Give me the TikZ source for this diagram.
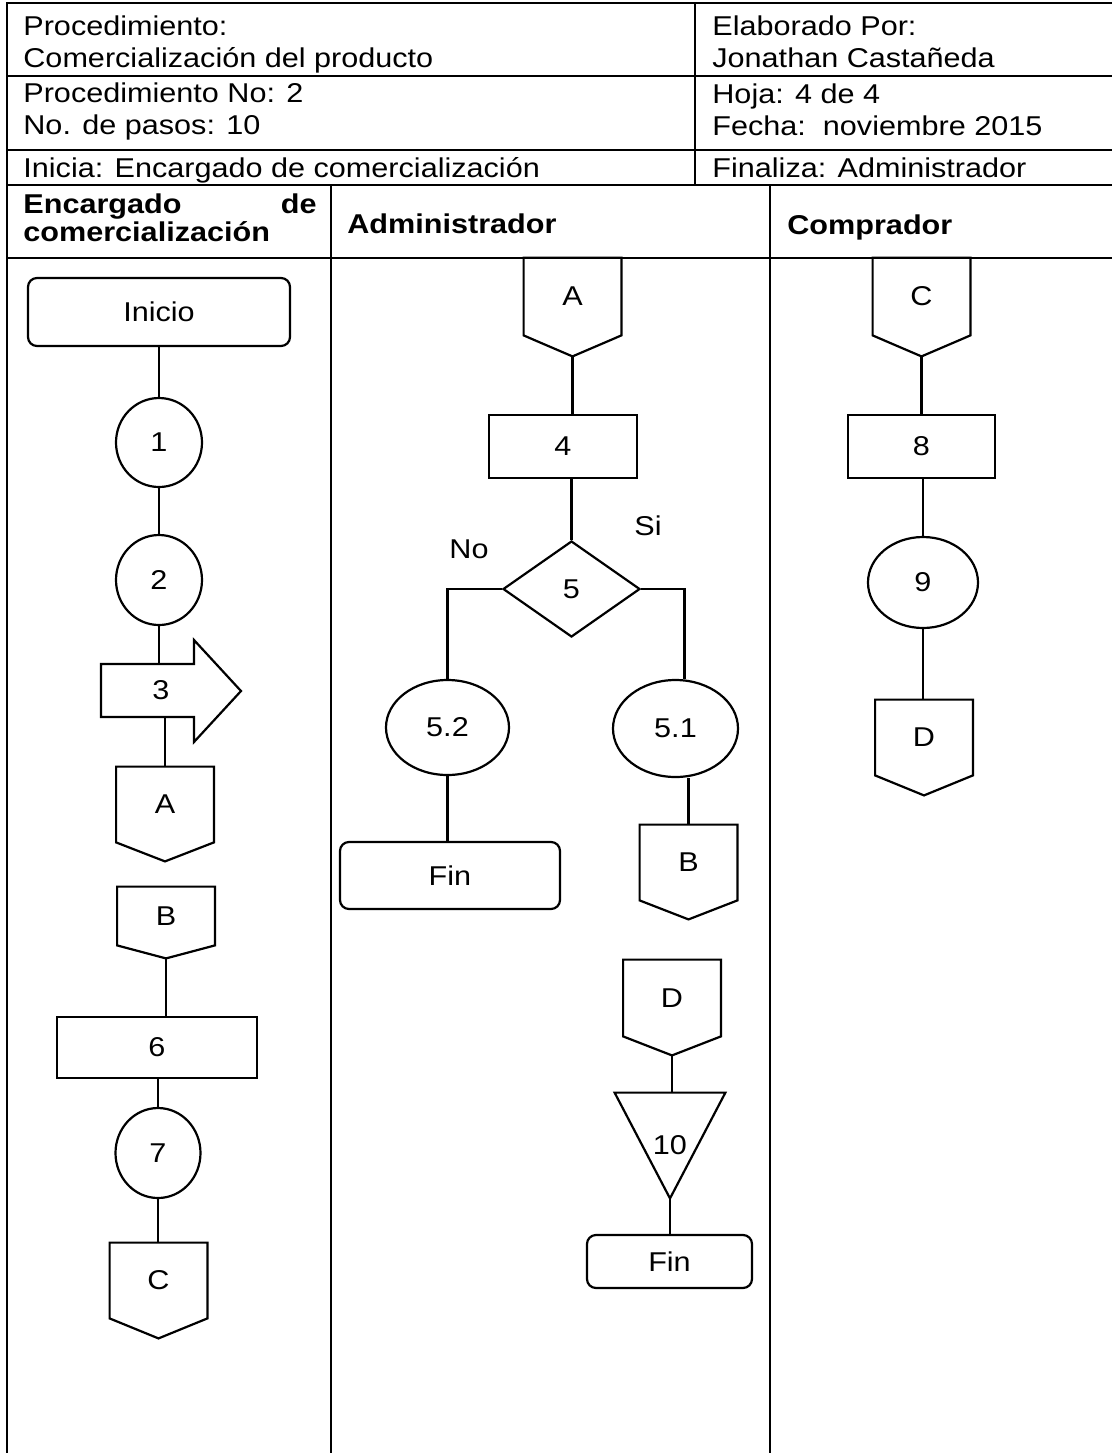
\documentclass[tikz,border=0pt]{standalone}
\usepackage{fontspec}
\setmainfont{Liberation Sans}[FakeStretch=1.125]
\usetikzlibrary{shapes.geometric}

\tikzset{
  every node/.style={font=\fontsize{13.6}{16}\selectfont},
  hdr/.style={anchor=base west, inner sep=0pt},
  lanehdr/.style={hdr, font=\fontsize{13.6}{16}\selectfont\bfseries},
  shp/.style={draw, line width=1.1pt, inner sep=0pt},
  term/.style={shp, rectangle, rounded corners=4.5pt},
  proc/.style={shp, rectangle},
  oper/.style={shp, ellipse},
  decis/.style={shp, diamond},
  offpg/.style={inner sep=0pt, minimum width=48.5pt},
  flow/.style={line width=1.1pt},
  grid/.style={line width=1pt}
}
\newcommand{\offpgline}[2]{\draw[flow] (#1.north west) -- (#1.north east) -- (#1.south east) -- ([yshift=-#2]#1.south) -- (#1.south west) -- cycle;}

\begin{document}
\begin{tikzpicture}[x=0.5pt,y=-0.5pt]
\useasboundingbox (0,0) rectangle (1112,1453);
\draw[grid] (7,1453) -- (7,3) -- (1112,3);
\foreach \yy in {76,150,185,258} \draw[grid] (7,\yy) -- (1112,\yy);
\draw[grid] (695,3) -- (695,185);
\foreach \xx in {331,770} \draw[grid] (\xx,185) -- (\xx,1453);

\node[hdr] (proc)     at (23,35)  {Procedimiento:};
\node[hdr] (procname) at (23,67)  {Comercialización del producto};
\node[hdr] (procno)   at (23,102) {Procedimiento No: 2};
\node[hdr] (pasos)    at (23,134) {No. de pasos: 10};
\node[hdr] (inicia)   at (23,177) {Inicia: Encargado de comercialización};
\node[hdr] (elab)     at (712,35)  {Elaborado Por:};
\node[hdr] (autor)    at (712,67)  {Jonathan Castañeda};
\node[hdr] (hoja)     at (712,103) {Hoja: 4 de 4};
\node[hdr] (fecha)    at (712,135) {Fecha:\ \ noviembre 2015};
\node[hdr] (finaliza) at (712,177) {Finaliza: Administrador};

\node[lanehdr] (lane1)   at (23,213) {Encargado};
\node[lanehdr, anchor=base east] (lane1de) at (317,213) {de};
\node[lanehdr] (lane1b)  at (23,241) {comercialización};
\node[lanehdr] (lane2)   at (347,233) {Administrador};
\node[lanehdr] (lane3)   at (787,234) {Comprador};

% encargado de comercializacion
\node[term, minimum width=131pt, minimum height=34pt] (inicio) at (159,312) {Inicio};
\node[oper, minimum width=43pt, minimum height=44.5pt] (p1) at (159,442.5) {1};
\node[oper, minimum width=43pt, minimum height=45pt] (p2) at (159,580) {2};
\node[inner sep=0pt, minimum height=26.5pt] (p3) at (161,690.5) {3};
\draw[flow, shift={(p3.center)}] (-60,-26.5) -- (33,-26.5) -- (33,-50.5) -- (80,0.5) -- (33,51.5) -- (33,26.5) -- (-60,26.5) -- cycle;
\node[offpg, minimum height=37.5pt] (offA1) at (165,804.5) {A};
\offpgline{offA1}{9.5pt}
\node[offpg, minimum height=29pt] (offB1) at (166,916) {B};
\offpgline{offB1}{6.5pt}
\node[proc, minimum width=100pt, minimum height=30.5pt] (p6) at (157,1047.5) {6};
\node[oper, minimum width=42.5pt, minimum height=45pt] (p7) at (158,1153) {7};
\node[offpg, minimum height=37.5pt] (offC1) at (158.5,1280.5) {C};
\offpgline{offC1}{10pt}

\draw[flow] (inicio) -- (p1);
\draw[flow] (p1) -- (p2);
\draw[flow] (p2) -- (p2 |- p3.north);
\draw[flow] (offA1 |- p3.south) -- (offA1);
\draw[flow] ([yshift=-6.5pt]offB1.south) -- (offB1.south |- p6.north);
\draw[flow] (p7 |- p6.south) -- (p7);
\draw[flow] (p7) -- (p7 |- offC1.north);

% administrador
\node[offpg, minimum height=38.5pt] (offA2) at (572.5,296.5) {A};
\offpgline{offA2}{10.5pt}
\node[proc, minimum width=74pt, minimum height=31.5pt] (p4) at (563,446.5) {4};
\node[decis, minimum width=68.5pt, minimum height=48pt] (p5) at (571.5,589) {5};
\node[oper, minimum width=61.5pt, minimum height=47.5pt] (p52) at (447.5,727.5) {5.2};
\node[oper, minimum width=62.5pt, minimum height=48.5pt] (p51) at (675.5,728.5) {5.1};
\node (no) at (469,549) {No};
\node (si) at (648,526) {Si};
\node[term, minimum width=110pt, minimum height=33.5pt] (fin1) at (450,875.5) {Fin};
\node[offpg, minimum height=37.5pt] (offB2) at (688.5,862.5) {B};
\offpgline{offB2}{9.5pt}
\node[offpg, minimum height=38pt] (offD2) at (672,998) {D};
\offpgline{offD2}{9.5pt}
\node[inner sep=0pt, minimum width=55pt, minimum height=52.5pt] (p10) at (670,1145.5) {10};
\draw[flow] (p10.north west) -- (p10.north east) -- (p10.south) -- cycle;
\node[term, minimum width=82.5pt, minimum height=26.5pt] (fin2) at (669.5,1261.5) {Fin};

\draw[flow] ([yshift=-10.5pt]offA2.south) -- (offA2.south |- p4.north);
\draw[flow] (p5 |- p4.south) -- (p5);
\draw[flow] (p5.west) -| (p52);
\draw[flow] (p5.east) -| ([xshift=4.5pt]p51.north);
\draw[flow] (p52) -- (p52 |- fin1.north);
\draw[flow] (offB2 |- p51.south) -- (offB2);
\draw[flow] ([yshift=-9.5pt]offD2.south) -- (offD2.south |- p10.north);
\draw[flow] (p10.south) -- (p10.south |- fin2.north);

% comprador
\node[offpg, minimum height=38.5pt] (offC3) at (921.5,296.5) {C};
\offpgline{offC3}{10.5pt}
\node[proc, minimum width=73.5pt, minimum height=31.5pt] (p8) at (921.5,446.5) {8};
\node[oper, minimum width=55pt, minimum height=45.5pt] (p9) at (923,582.5) {9};
\node[offpg, minimum height=37.5pt] (offD3) at (924,737.5) {D};
\offpgline{offD3}{10pt}

\draw[flow] ([yshift=-10.5pt]offC3.south) -- (offC3.south |- p8.north);
\draw[flow] (p9 |- p8.south) -- (p9);
\draw[flow] (p9) -- (p9 |- offD3.north);
\end{tikzpicture}
\end{document}
